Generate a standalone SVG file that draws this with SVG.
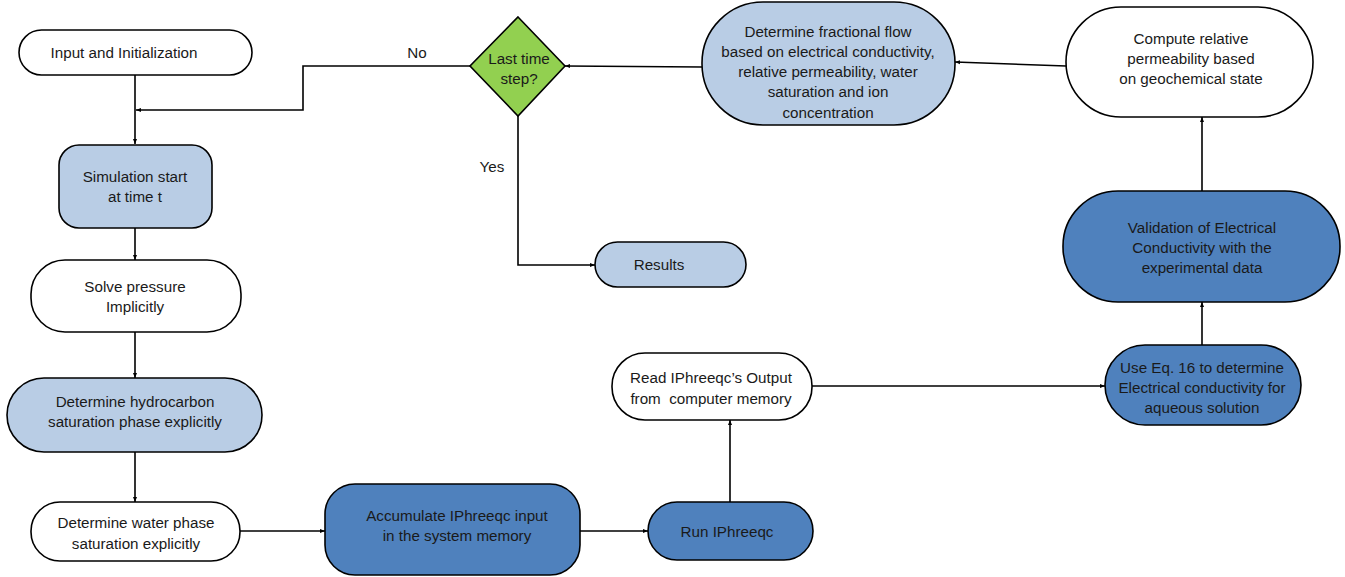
<svg xmlns="http://www.w3.org/2000/svg" width="1345" height="577" viewBox="0 0 1345 577">
<defs>
<style>
.n{stroke:#000;stroke-width:1.6}
.w{fill:#fff}
.lb{fill:#B9CDE5}
.db{fill:#4F81BD}
.g{fill:#92D050}
text{font-family:"Liberation Sans",Arial,sans-serif;font-size:15.2px;fill:#1a1a1a;text-anchor:middle;white-space:pre}
.c{fill:none;stroke:#000;stroke-width:1.6}
</style>
<marker id="ah" viewBox="0 0 10 10" refX="10" refY="5" markerWidth="5" markerHeight="5" orient="auto" markerUnits="userSpaceOnUse">
<path d="M0,1 L10,5 L0,9 z" fill="#000"/>
</marker>
</defs>
<rect width="1345" height="577" fill="#fff"/>
<g id="connectors">
<path class="c" d="M135,75 V144" marker-end="url(#ah)"/>
<path class="c" d="M470,66 H303 V110 H136" marker-end="url(#ah)"/>
<path class="c" d="M135,228 V260" marker-end="url(#ah)"/>
<path class="c" d="M135,332 V378" marker-end="url(#ah)"/>
<path class="c" d="M135,452 V502" marker-end="url(#ah)"/>
<path class="c" d="M240,531 H325" marker-end="url(#ah)"/>
<path class="c" d="M580,531 H648" marker-end="url(#ah)"/>
<path class="c" d="M730,502 V420" marker-end="url(#ah)"/>
<path class="c" d="M812,386 H1105" marker-end="url(#ah)"/>
<path class="c" d="M1202,345 V302" marker-end="url(#ah)"/>
<path class="c" d="M1202,191 V117" marker-end="url(#ah)"/>
<path class="c" d="M1066,66 L955,62" marker-end="url(#ah)"/>
<path class="c" d="M702,67 L565,66" marker-end="url(#ah)"/>
<path class="c" d="M518,116 V265 H595" marker-end="url(#ah)"/>
<text x="417" y="58">No</text>
<text x="492" y="172">Yes</text>
</g>
<g id="n-input">
<rect class="n w" x="19" y="30" width="233" height="45" rx="22.5"/>
<text x="124" y="58">Input and Initialization</text>
</g>
<g id="n-simstart">
<rect class="n lb" x="59" y="145" width="153" height="83" rx="20"/>
<text x="135" y="182">Simulation start</text>
<text x="135" y="202">at time t</text>
</g>
<g id="n-pressure">
<rect class="n w" x="31" y="260" width="210" height="72" rx="34"/>
<text x="135" y="292">Solve pressure</text>
<text x="135" y="312">Implicitly</text>
</g>
<g id="n-hydro">
<rect class="n lb" x="7" y="378" width="255" height="74" rx="37"/>
<text x="135" y="407">Determine hydrocarbon</text>
<text x="135" y="427">saturation phase explicitly</text>
</g>
<g id="n-water">
<rect class="n w" x="31" y="502" width="209" height="59" rx="29"/>
<text x="136" y="528">Determine water phase</text>
<text x="136" y="549">saturation explicitly</text>
</g>
<g id="n-accum">
<rect class="n db" x="325" y="484" width="255" height="91" rx="30"/>
<text x="457" y="521">Accumulate IPhreeqc input</text>
<text x="457" y="541">in the system memory</text>
</g>
<g id="n-run">
<rect class="n db" x="648" y="502" width="165" height="58" rx="29"/>
<text x="727" y="537">Run IPhreeqc</text>
</g>
<g id="n-read">
<rect class="n w" x="612" y="353" width="200" height="67" rx="33"/>
<text x="711" y="383">Read IPhreeqc’s Output</text>
<text x="711" y="404" xml:space="preserve">from  computer memory</text>
</g>
<g id="n-useeq">
<rect class="n db" x="1105" y="345" width="196" height="80" rx="40"/>
<text x="1202" y="373">Use Eq. 16 to determine</text>
<text x="1202" y="393">Electrical conductivity for</text>
<text x="1202" y="413">aqueous solution</text>
</g>
<g id="n-valid">
<rect class="n db" x="1063" y="191" width="277" height="111" rx="55"/>
<text x="1202" y="233">Validation of Electrical</text>
<text x="1202" y="253">Conductivity with the</text>
<text x="1202" y="273">experimental data</text>
</g>
<g id="n-compute">
<rect class="n w" x="1066" y="7" width="247" height="110" rx="55"/>
<text x="1191" y="44">Compute relative</text>
<text x="1191" y="64">permeability based</text>
<text x="1191" y="84">on geochemical state</text>
</g>
<g id="n-frac">
<rect class="n lb" x="702" y="2" width="253" height="123" rx="61"/>
<text x="828" y="37">Determine fractional flow</text>
<text x="828" y="57">based on electrical conductivity,</text>
<text x="828" y="77">relative permeability, water</text>
<text x="828" y="97">saturation and ion</text>
<text x="828" y="118">concentration</text>
</g>
<g id="n-decision">
<polygon class="n g" points="518,17 565,66 518,116 470,66"/>
<text x="519" y="64">Last time</text>
<text x="519" y="84">step?</text>
</g>
<g id="n-results">
<rect class="n lb" x="595" y="242" width="151" height="45" rx="22.5"/>
<text x="659" y="270">Results</text>
</g>
</svg>
